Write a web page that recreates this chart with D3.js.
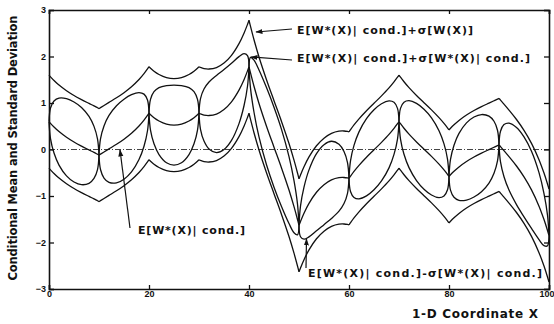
<!DOCTYPE html>
<html>
<head>
<meta charset="utf-8">
<script src="https://cdn.jsdelivr.net/npm/d3@7"></script>
<style>
  body { margin: 0; background: #fff; }
  .tick text { font-family: "Liberation Sans", Arial, sans-serif; font-weight: bold; font-size: 9px; }
  .lbl { font-family: "DejaVu Sans", sans-serif; font-weight: bold; font-size: 11px; fill: #111; }
</style>
</head>
<body>
<div class="plot"></div>
<script>
// sample positions along the 1-D coordinate
let xs = [
  0,0.3,1,2,3.5,5,6.5,8,9,9.7,
  10,10.3,11,12,13.5,15,16.5,18,19,19.7,
  20,20.3,21,22,23.5,25,26.5,28,29,29.7,
  30,30.3,31,32,33.5,35,36.5,38,39,39.7,
  40,40.3,41,42,43.5,45,46.5,48,49,49.7,
  50,50.3,51,52,53.5,55,56.5,58,59,59.7,
  60,60.3,61,62,63.5,65,66.5,68,69,69.7,
  70,70.3,71,72,73.5,75,76.5,78,79,79.7,
  80,80.3,81,82,83.5,85,86.5,88,89,89.7,
  90,90.3,91,92,93.5,95,96.5,98,99,99.7,
  100]

// E[W*(X)| cond.]
let meanE = [
  0.60,0.563,0.484,0.385,0.263,0.161,0.073,-0.009,-0.063,-0.103,
  -0.12,-0.100,-0.053,0.013,0.112,0.222,0.349,0.505,0.631,0.733,
  0.78,0.748,0.683,0.612,0.545,0.524,0.545,0.612,0.683,0.748,
  0.78,0.765,0.741,0.731,0.763,0.860,1.026,1.277,1.501,1.690,
  1.78,1.649,1.361,0.990,0.501,0.050,-0.396,-0.872,-1.230,-1.505,
  -1.63,-1.546,-1.369,-1.158,-0.919,-0.756,-0.653,-0.606,-0.602,-0.612,
  -0.62,-0.574,-0.472,-0.341,-0.167,-0.006,0.154,0.325,0.455,0.554,
  0.60,0.555,0.457,0.330,0.163,0.007,-0.148,-0.315,-0.439,-0.536,
  -0.58,-0.544,-0.468,-0.374,-0.257,-0.161,-0.078,-0.002,0.048,0.084,
  0.10,0.063,-0.025,-0.153,-0.355,-0.588,-0.868,-1.218,-1.507,-1.741,
  -1.85]

// sigma[W*(X)| cond.]  (zero at the conditioning points)
let sdCond = [
  0,0.33,0.56,0.72,0.83,0.86,0.83,0.72,0.56,0.33,
  0,0.33,0.56,0.72,0.83,0.86,0.83,0.72,0.56,0.33,
  0,0.33,0.56,0.72,0.83,0.86,0.83,0.72,0.56,0.33,
  0,0.33,0.56,0.72,0.83,0.86,0.83,0.72,0.56,0.33,
  0,0.33,0.56,0.72,0.83,0.86,0.83,0.72,0.56,0.33,
  0,0.33,0.56,0.72,0.83,0.86,0.83,0.72,0.56,0.33,
  0,0.33,0.56,0.72,0.83,0.86,0.83,0.72,0.56,0.33,
  0,0.33,0.56,0.72,0.83,0.86,0.83,0.72,0.56,0.33,
  0,0.33,0.56,0.72,0.83,0.86,0.83,0.72,0.56,0.33,
  0,0.33,0.56,0.72,0.83,0.86,0.83,0.72,0.56,0.33,
  0]

// sigma[W(X)] (unconditional)
let sdUncond = 1.0
let condPoints = [0,10,20,30,40,50,60,70,80,90,100]

let yTicks = [-3,-2,-1,0,1,2,3]
let xTicks = [0,20,40,60,80,100]

let width = 554, height = 324
let svg = d3.select(".plot").append("svg")
  .attr("width", width)
  .attr("height", height)
  .style("background", "#fff")

let x = d3.scaleLinear().domain([0,100]).range([49,549])
let y = d3.scaleLinear().domain([-3,3]).range([289,10])

let rows = xs.map(function(v,i){ return {x:v, m:meanE[i], s:sdCond[i]} })

// break into pieces between conditioning points so the cusps stay sharp
let pieces = []
for(let k=0;k<condPoints.length-1;k++){
  pieces.push(rows.filter(function(d){ return d.x>=condPoints[k] && d.x<=condPoints[k+1] }))
}

let curves = [
  function(d){ return d.m },
  function(d){ return d.m + sdUncond },
  function(d){ return d.m - sdUncond },
  function(d){ return d.m + d.s },
  function(d){ return d.m - d.s }
]

// zero line
svg.append("line")
  .attr("x1", x(0)).attr("x2", x(100))
  .attr("y1", y(0)).attr("y2", y(0))
  .attr("stroke", "#444")
  .attr("stroke-width", 1)
  .attr("stroke-dasharray", "6,2,1,2")

let g = svg.append("g")
curves.forEach(function(f){
  let line = d3.line()
    .x(function(d){ return x(d.x) })
    .y(function(d){ return y(f(d)) })
    .curve(d3.curveCatmullRom.alpha(0.5))
  pieces.forEach(function(p){
    g.append("path")
      .attr("d", line(p))
      .attr("fill", "none")
      .attr("stroke", "#111")
      .attr("stroke-width", 1.3)
  })
})

// axes, ticks pointing inward
let axL = svg.append("g").attr("transform", "translate(" + x(0) + ",0)")
  .call(d3.axisLeft(y).tickValues(yTicks).tickSize(-5).tickPadding(3).tickFormat(d3.format("d")))
let axR = svg.append("g").attr("transform", "translate(" + x(100) + ",0)")
  .call(d3.axisRight(y).tickValues(yTicks).tickSize(-5).tickFormat(""))
let axB = svg.append("g").attr("transform", "translate(0," + y(-3) + ")")
  .call(d3.axisBottom(x).tickValues(xTicks).tickSize(-4).tickPadding(2).tickFormat(d3.format("d")))
let axT = svg.append("g").attr("transform", "translate(0," + y(3) + ")")
  .call(d3.axisTop(x).tickValues(xTicks).tickSize(-4).tickFormat(""))
;[axL, axR, axB, axT].forEach(function(a){
  a.select(".domain").attr("stroke", "#111").attr("stroke-width", 1.6)
  a.selectAll(".tick line").attr("stroke", "#111").attr("stroke-width", 1.3)
  a.selectAll(".tick text").attr("fill", "#111")
})
// the last label sits on the page edge; nudge it in so it stays whole
axB.selectAll(".tick text").filter(function(d){ return d === 100 }).attr("text-anchor", "end").attr("x", 5)

// axis titles
svg.append("text")
  .attr("class", "lbl")
  .attr("transform", "translate(17,148) rotate(-90)")
  .attr("text-anchor", "middle")
  .attr("textLength", 265)
  .attr("lengthAdjust", "spacing")
  .style("font-size", "11.5px")
  .text("Conditional Mean and Standard Deviation")

svg.append("text")
  .attr("class", "lbl")
  .attr("x", 412).attr("y", 318)
  .attr("textLength", 126)
  .attr("lengthAdjust", "spacing")
  .style("font-size", "12px")
  .text("1-D Coordinate X")

// curve labels with arrows
let defs = svg.append("defs")
defs.append("marker")
  .attr("id", "head")
  .attr("viewBox", "0 0 10 10")
  .attr("refX", 9).attr("refY", 5)
  .attr("markerWidth", 6).attr("markerHeight", 6)
  .attr("orient", "auto")
  .append("path")
  .attr("d", "M0,1.5L10,5L0,8.5Z")
  .attr("fill", "#111")

let notes = [
  {text:"E[W*(X)| cond.]+\u03c3[W(X)]", tx:297, ty:30, len:176, from:[292,29], to:[256,32]},
  {text:"E[W*(X)| cond.]+\u03c3[W*(X)| cond.]", tx:297, ty:58, len:233, from:[292,60], to:[251,57]},
  {text:"E[W*(X)| cond.]", tx:138, ty:230, len:107, from:[130,228], to:[120,150]},
  {text:"E[W*(X)| cond.]-\u03c3[W*(X)| cond.]", tx:308, ty:273, len:234, from:[306,268], to:[306.5,239]}
]
notes.forEach(function(n){
  svg.append("line")
    .attr("x1", n.from[0]).attr("y1", n.from[1])
    .attr("x2", n.to[0]).attr("y2", n.to[1])
    .attr("stroke", "#111").attr("stroke-width", 1.2)
    .attr("marker-end", "url(#head)")
  svg.append("text")
    .attr("class", "lbl")
    .attr("x", n.tx).attr("y", n.ty + 4)
    .attr("textLength", n.len)
    .attr("lengthAdjust", "spacing")
    .text(n.text)
})
</script>
</body>
</html>
